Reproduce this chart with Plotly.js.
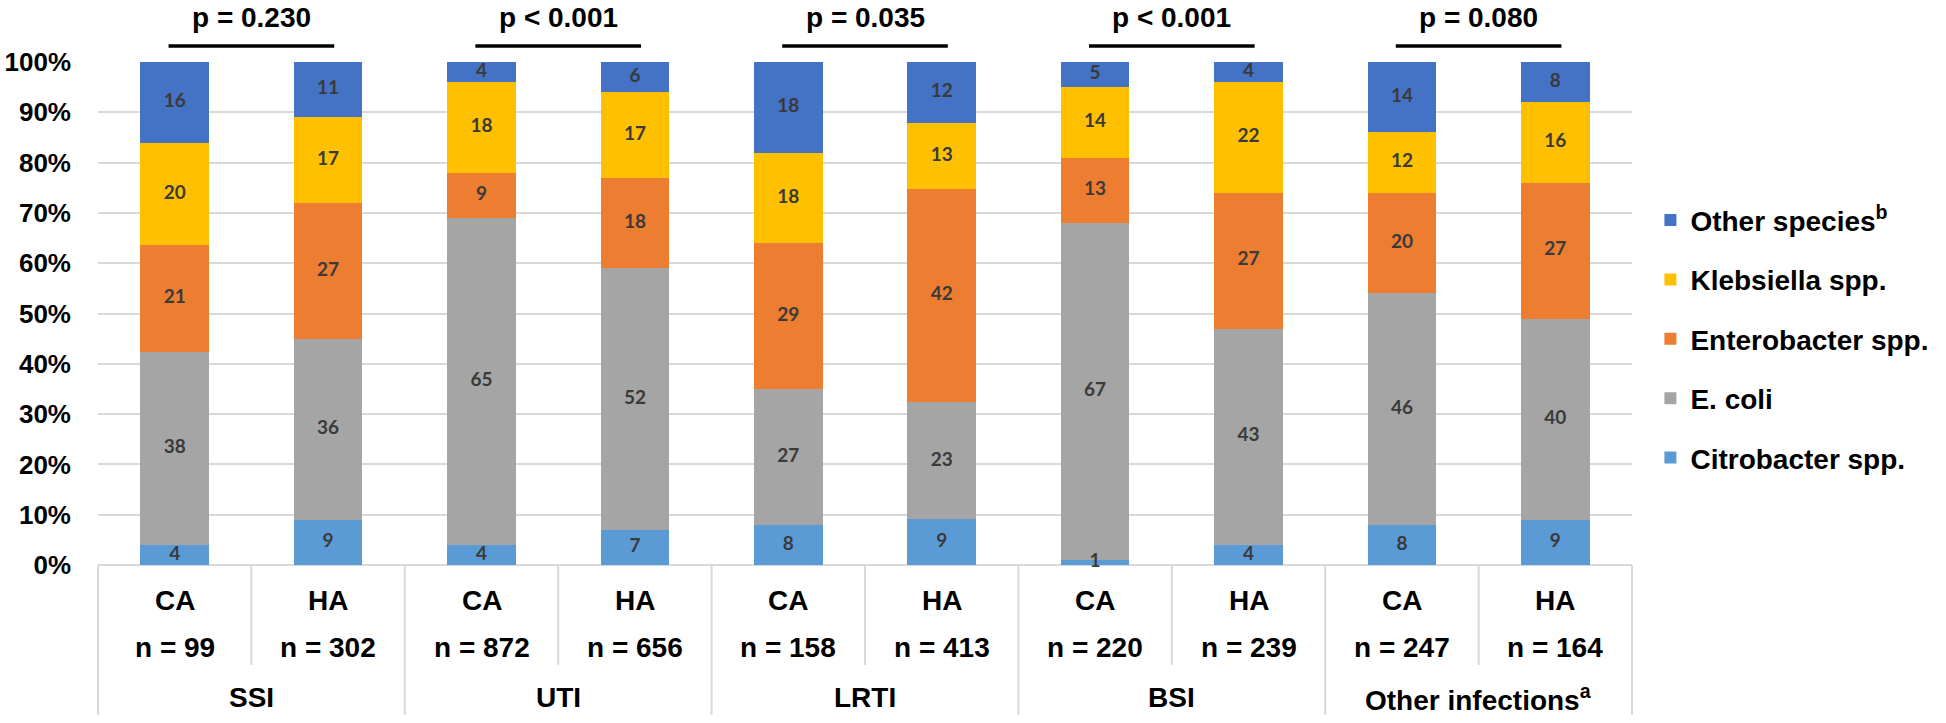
<!DOCTYPE html>
<html>
<head>
<meta charset="utf-8">
<script src="https://cdn.plot.ly/plotly-3.0.1.min.js"></script>
<style>
  body { margin: 0; background: #fff; }
  #chart { width: 1946px; height: 723px; }
</style>
</head>
<body>
<div id="chart"></div>
<script>
// categories
var infections = ["SSI", "UTI", "LRTI", "BSI", "Other infections<sup>a</sup>"];
var origins = ["CA", "HA"];
var nCounts = [99, 302, 872, 656, 158, 413, 220, 239, 247, 164];
var pValues = ["p = 0.230", "p < 0.001", "p = 0.035", "p < 0.001", "p = 0.080"];

// series values (% of isolates, as printed in the bars)
var citrobacter = [4, 9, 4, 7, 8, 9, 1, 4, 8, 9];
var ecoli = [38, 36, 65, 52, 27, 23, 67, 43, 46, 40];
var enterobacter = [21, 27, 9, 18, 29, 42, 13, 27, 20, 27];
var klebsiella = [20, 17, 18, 17, 18, 13, 14, 22, 12, 16];
var otherSpecies = [16, 11, 4, 6, 18, 12, 5, 4, 14, 8];

var yTicks = [0, 10, 20, 30, 40, 50, 60, 70, 80, 90, 100];

var cats = [];
infections.forEach(function (inf) {
  origins.forEach(function (o) {
    cats.push(inf + "|" + o);
  });
});

var boldFont = "Liberation Sans, Arial, sans-serif";

var series = [
  { name: "Citrobacter spp.", vals: citrobacter, color: "#5B9BD5" },
  { name: "E. coli", vals: ecoli, color: "#A5A5A5" },
  { name: "Enterobacter spp.", vals: enterobacter, color: "#ED7D31" },
  { name: "Klebsiella spp.", vals: klebsiella, color: "#FFC000" },
  { name: "Other species<sup>b</sup>", vals: otherSpecies, color: "#4472C4" },
];

var traces = series.map(function (s, k) {
  return {
    type: "bar",
    name: s.name,
    x: cats,
    y: s.vals,
    marker: { color: s.color, line: { width: 0 } },
    legendgroup: s.name,
    legendrank: series.length - k,
    hoverinfo: "skip",
  };
});

// segment labels on top of every bar (so the tiny "1" stays visible)
var labX = [], labY = [], labT = [];
cats.forEach(function (c, i) {
  var total = 0;
  series.forEach(function (s) { total += s.vals[i]; });
  var cum = 0;
  series.forEach(function (s) {
    var v = s.vals[i];
    labX.push(c);
    labY.push(((cum + v / 2) / total) * 100);
    labT.push(String(v));
    cum += v;
  });
});
traces.push({
  type: "scatter",
  mode: "text",
  x: labX,
  y: labY,
  text: labT,
  textposition: "middle center",
  textfont: { family: "Lato, sans-serif", size: 19, color: "#3A3A3A", weight: 700 },
  cliponaxis: false,
  showlegend: false,
  hoverinfo: "skip",
});

var nCat = cats.length;
var annotations = [];
var shapes = [];
var txt = { family: boldFont, size: 28, color: "#000", weight: 700 };

// table under the bars
cats.forEach(function (c, i) {
  annotations.push({
    xref: "x", yref: "paper", x: i, y: -0.07,
    text: origins[i % 2], showarrow: false, font: txt,
    xanchor: "center", yanchor: "middle",
  });
  annotations.push({
    xref: "x", yref: "paper", x: i, y: -0.165,
    text: "n = " + nCounts[i], showarrow: false, font: txt,
    xanchor: "center", yanchor: "middle",
  });
});
infections.forEach(function (inf, g) {
  annotations.push({
    xref: "x", yref: "paper", x: 2 * g + 0.5, y: -0.264,
    text: inf, showarrow: false, font: txt,
    xanchor: "center", yanchor: "middle",
  });
  annotations.push({
    xref: "x", yref: "paper", x: 2 * g + 0.5, y: 1.088,
    text: pValues[g], showarrow: false, font: txt,
    xanchor: "center", yanchor: "middle",
  });
  shapes.push({
    type: "line", xref: "x", yref: "paper",
    x0: 2 * g + 0.5 - 0.54, x1: 2 * g + 0.5 + 0.54, y0: 1.032, y1: 1.032,
    line: { color: "#000", width: 3.5 },
  });
});
for (var k = 0; k <= nCat; k++) {
  var full = k % 2 === 0;
  shapes.push({
    type: "line", xref: "paper", yref: "paper",
    x0: k / nCat, x1: k / nCat, y0: 0, y1: full ? -0.298 : -0.199,
    line: { color: "#D9D9D9", width: 2 },
  });
}

var layout = {
  width: 1946,
  height: 723,
  margin: { l: 98, r: 302, t: 62, b: 158 },
  paper_bgcolor: "#fff",
  plot_bgcolor: "#fff",
  barmode: "stack",
  barnorm: "percent",
  bargap: 0.554,
  showlegend: true,
  legend: {
    x: 1.012, xanchor: "left",
    y: 0.735, yanchor: "top",
    traceorder: "grouped",
    tracegroupgap: 20,
    itemwidth: 30,
    font: { family: boldFont, size: 28, color: "#000", weight: 700 },
  },
  xaxis: {
    type: "category",
    categoryorder: "array",
    categoryarray: cats,
    showticklabels: false,
    showgrid: false,
    showline: false,
    zeroline: false,
    ticks: "",
    range: [-0.5, nCat - 0.5],
  },
  yaxis: {
    range: [0, 100],
    tickvals: yTicks,
    ticktext: yTicks.map(function (v) { return v + "%"; }),
    ticks: "",
    ticklabelstandoff: 26,
    tickfont: { family: boldFont, size: 26, color: "#000", weight: 700 },
    showgrid: true,
    gridcolor: "#D9D9D9",
    gridwidth: 2,
    zeroline: true,
    zerolinecolor: "#D9D9D9",
    zerolinewidth: 2,
    showline: false,
  },
  annotations: annotations,
  shapes: shapes,
};

Plotly.newPlot("chart", traces, layout, { staticPlot: true, displayModeBar: false });
</script>
</body>
</html>
